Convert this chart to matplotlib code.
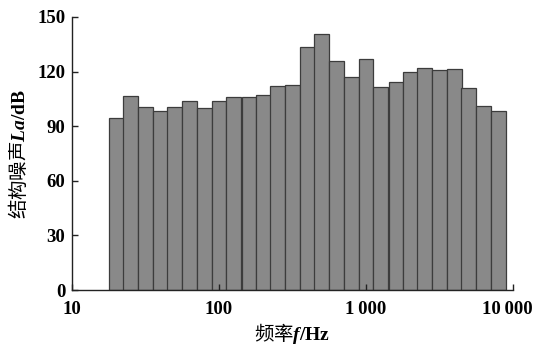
import matplotlib
matplotlib.use("Agg")
import matplotlib.pyplot as plt
import matplotlib.transforms as mtransforms
import numpy as np

# 1/3 octave band centre frequencies (Hz) and structural noise level (dB)
freqs = [20, 25, 31.5, 40, 50, 63, 80, 100, 125, 160, 200, 250, 315, 400,
         500, 630, 800, 1000, 1250, 1600, 2000, 2500, 3150, 4000, 5000,
         6300, 8000]
levels = [94.4, 106.4, 100.5, 98.1, 100.5, 104.0, 100.2, 104.0, 106.2,
          106.2, 107.3, 112.1, 112.8, 133.7, 140.7, 126.0, 116.8, 127.1,
          111.5, 114.1, 119.6, 122.2, 120.7, 121.6, 111.2, 101.0, 98.5]
xticks = [10, 100, 1000, 10000]
xticklabels = ["10", "100", "1\u2009000", "10\u2009000"]
yticks = [0, 30, 60, 90, 120, 150]

plt.rcParams['font.family'] = ['Liberation Serif', 'Noto Sans CJK SC']
plt.rcParams['mathtext.fontset'] = 'custom'
plt.rcParams['mathtext.rm'] = 'Liberation Serif:bold'
plt.rcParams['mathtext.it'] = 'Liberation Serif:italic:bold'
plt.rcParams['mathtext.bf'] = 'Liberation Serif:bold'

fig = plt.figure(figsize=(5.38, 3.45), dpi=100)
ax = fig.add_axes([0.134, 0.159, 0.8195, 0.792])

f = np.array(freqs)
left = f / 10 ** 0.05
right = f * 10 ** 0.05
ax.bar(left, levels, width=right - left, align='edge',
       color='#898989', edgecolor='#3c3c3c', linewidth=0.9)

ax.set_xscale('log')
ax.set_xlim(10, 10000)
ax.set_ylim(0, 150)
ax.set_xticks(xticks)
ax.set_xticklabels(xticklabels)
ax.xaxis.set_minor_locator(matplotlib.ticker.NullLocator())
ax.set_yticks(yticks)

for s in ['top', 'right']:
    ax.spines[s].set_visible(False)
for s in ['left', 'bottom']:
    ax.spines[s].set_color('#222222')
    ax.spines[s].set_linewidth(1.0)

ax.tick_params(direction='in', length=4, width=1.0, color='#222222',
               labelsize=13.5)
ax.tick_params(axis='y', pad=5)
ax.tick_params(axis='x', pad=8)
for lab in ax.get_xticklabels() + ax.get_yticklabels():
    lab.set_fontweight('bold')

# nudge the last label a little inward like the original
xl = ax.get_xticklabels()
xl[-1].set_transform(xl[-1].get_transform() +
                     mtransforms.ScaledTranslation(-6 / 100, 0, fig.dpi_scale_trans))

ax.set_xlabel('频率$f$$\\mathbf{/Hz}$', fontsize=14, family='Noto Sans CJK SC',
              labelpad=2)
ax.set_ylabel('结构噪声$La$$\\mathbf{/dB}$', fontsize=14, family='Noto Sans CJK SC',
              labelpad=5)

fig.savefig('out.png', dpi=100)
